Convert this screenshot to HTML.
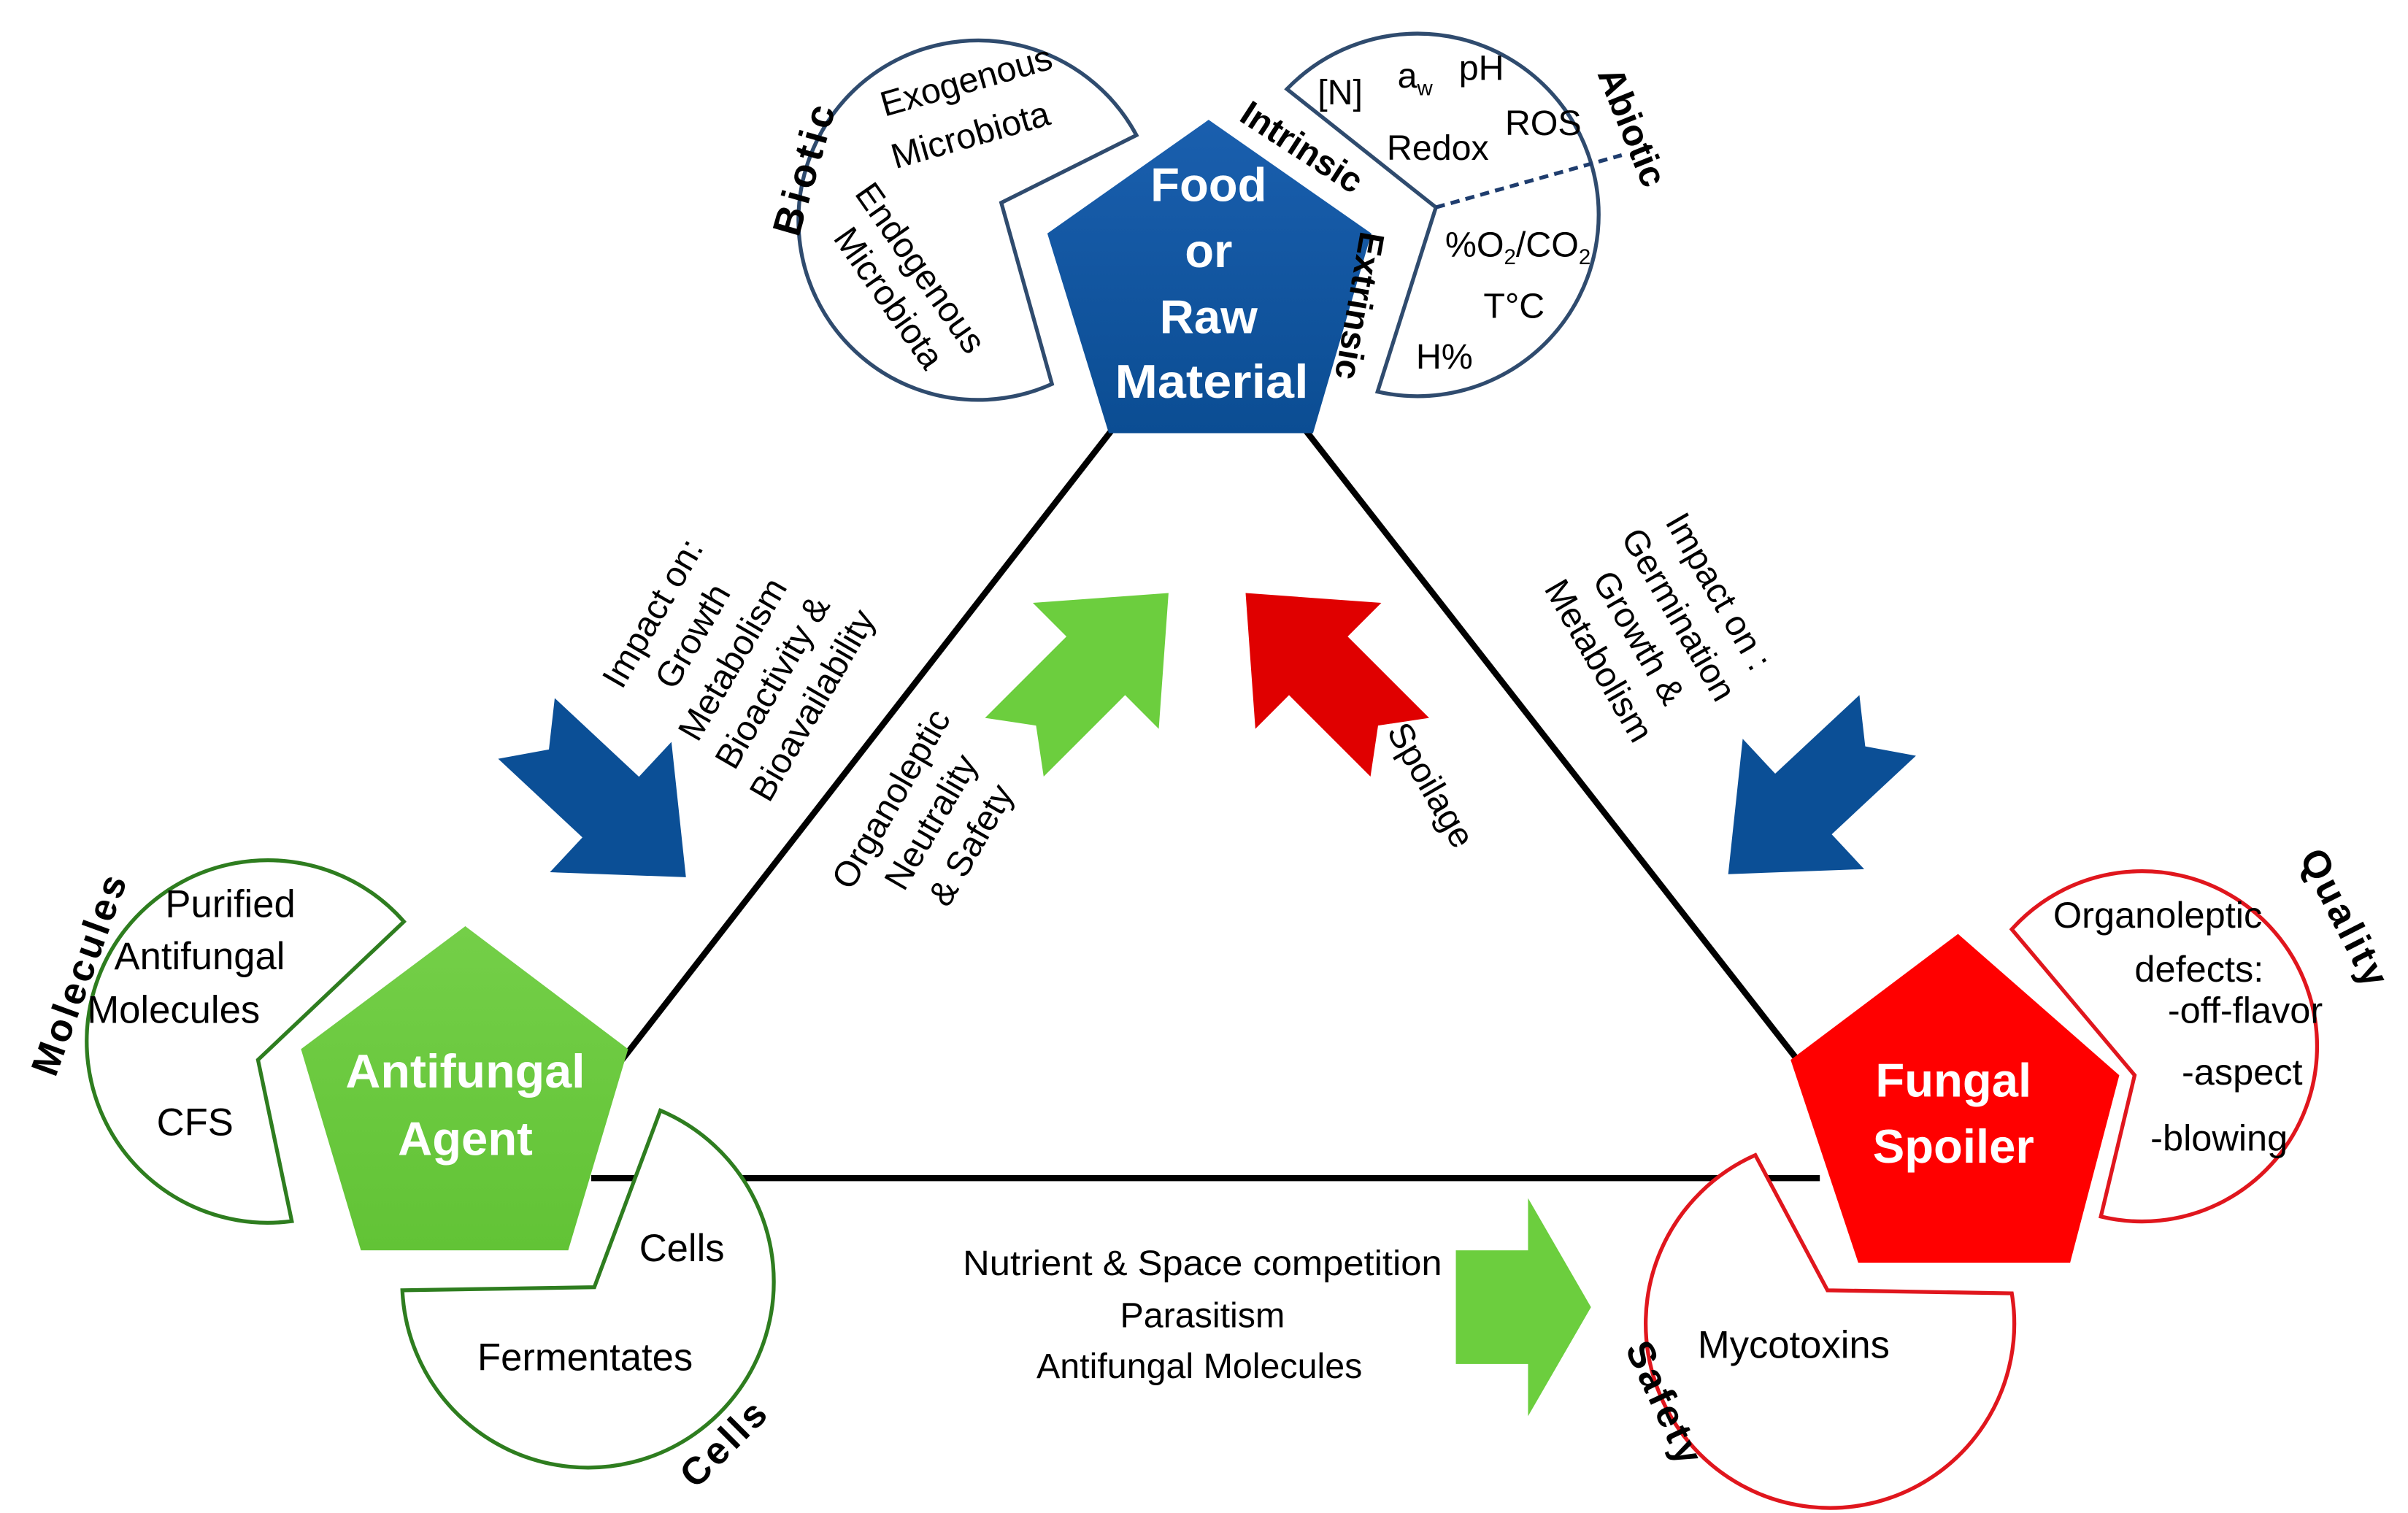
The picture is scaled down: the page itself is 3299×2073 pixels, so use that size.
<!DOCTYPE html>
<html><head><meta charset="utf-8">
<style>
html,body{margin:0;padding:0;background:#fff;}
svg{display:block;}
text{font-family:"Liberation Sans","DejaVu Sans",sans-serif;}
</style></head>
<body>
<svg width="3299" height="2073" viewBox="0 0 1568 985" preserveAspectRatio="none" xmlns="http://www.w3.org/2000/svg">
<defs>
<linearGradient id="gb" x1="0" y1="0" x2="0" y2="1"><stop offset="0" stop-color="#1a5fae"/><stop offset="1" stop-color="#0b4d93"/></linearGradient>
<linearGradient id="gg" x1="0" y1="0" x2="0" y2="1"><stop offset="0" stop-color="#74cf48"/><stop offset="1" stop-color="#62c336"/></linearGradient>
</defs>
<g stroke="#000" stroke-width="4" fill="none">
<line x1="724" y1="280" x2="405" y2="690"/>
<line x1="850" y1="280" x2="1172" y2="692"/>
<line x1="385" y1="767" x2="1185" y2="767"/>
</g>

<path d="M685,250 L652,132 L740,88 A117,117 0 1 0 685,250 Z" fill="#fff" stroke="#2f4b6e" stroke-width="2.5"/>
<path d="M838,58 L935,135 L897,255 A118,118 0 1 0 838,58 Z" fill="#fff" stroke="#2f4b6e" stroke-width="2.5"/>
<line x1="935" y1="135" x2="1056" y2="101" stroke="#1f3d6e" stroke-width="2.5" stroke-dasharray="6,4"/>

<polygon points="787,78 682,152 722,282 855,282 893,152" fill="url(#gb)"/>
<g fill="#fff" font-weight="bold" font-size="31" text-anchor="middle">
<text x="787" y="131">Food</text>
<text x="787" y="174">or</text>
<text x="787" y="217">Raw</text>
<text x="789" y="259" textLength="126" lengthAdjust="spacingAndGlyphs">Material</text>
</g>

<text transform="translate(520,155) rotate(-74)" font-size="26" font-weight="bold" letter-spacing="3">Biotic</text>
<text transform="translate(576,76) rotate(-16)" font-size="23">Exogenous</text>
<text transform="translate(583,110) rotate(-16)" font-size="23">Microbiota</text>
<text transform="translate(556,126) rotate(55)" font-size="23">Endogenous</text>
<text transform="translate(542,155) rotate(55)" font-size="23">Microbiota</text>

<text transform="translate(1040,48) rotate(68)" font-size="24" font-weight="bold">Abiotic</text>
<text transform="translate(806,78) rotate(33)" font-size="23" font-weight="bold">Intrinsic</text>
<text transform="translate(886,150) rotate(100)" font-size="23" font-weight="bold">Extrinsic</text>
<g font-size="23">
<text x="858" y="68">[N]</text>
<text x="910" y="57">a<tspan font-size="14" dy="5">w</tspan></text>
<text x="950" y="52">pH</text>
<text x="903" y="104">Redox</text>
<text x="980" y="88">ROS</text>
<text x="941" y="167">%O<tspan font-size="14" dy="5">2</tspan><tspan dy="-5">/CO</tspan><tspan font-size="14" dy="5">2</tspan></text>
<text x="966" y="207">T°C</text>
<text x="922" y="240">H%</text>
</g>

<path d="M190,795 L168,690 L263,600 A118,118 0 1 0 190,795 Z" fill="#fff" stroke="#2e7d1f" stroke-width="2.5"/>
<path d="M430,723 L387,838 L262,840 A121,121 0 1 0 430,723 Z" fill="#fff" stroke="#2e7d1f" stroke-width="2.5"/>

<polygon points="303,603 196,683 235,814 370,814 409,683" fill="url(#gg)"/>
<g fill="#fff" font-weight="bold" font-size="31" text-anchor="middle">
<text x="303" y="708" textLength="156" lengthAdjust="spacingAndGlyphs">Antifungal</text>
<text x="303" y="752">Agent</text>
</g>
<text transform="translate(36,702) rotate(-70)" font-size="25" font-weight="bold" letter-spacing="2">Molecules</text>
<g font-size="25" text-anchor="middle">
<text x="150" y="597">Purified</text>
<text x="130" y="631">Antifungal</text>
<text x="113" y="666">Molecules</text>
<text x="127" y="739">CFS</text>
<text x="444" y="821">Cells</text>
<text x="381" y="892">Fermentates</text>
</g>
<text transform="translate(453,970) rotate(-45)" font-size="25" font-weight="bold" letter-spacing="2">Cells</text>

<path d="M1310,605 L1390,700 L1368,792 A114,114 0 1 0 1310,605 Z" fill="#fff" stroke="#e0161d" stroke-width="2.5"/>
<path d="M1143,752 L1190,840 L1310,842 A120,120 0 1 1 1143,752 Z" fill="#fff" stroke="#e0161d" stroke-width="2.5"/>

<polygon points="1275,608 1166,690 1210,822 1348,822 1380,700" fill="#ff0000"/>
<g fill="#fff" font-weight="bold" font-size="31" text-anchor="middle">
<text x="1272" y="714">Fungal</text>
<text x="1272" y="757">Spoiler</text>
</g>
<g font-size="24" text-anchor="middle">
<text x="1405" y="604">Organoleptic</text>
<text x="1432" y="639">defects:</text>
<text x="1462" y="666">-off-flavor</text>
<text x="1460" y="706">-aspect</text>
<text x="1445" y="749">-blowing</text>
<text x="1168" y="884" font-size="25">Mycotoxins</text>
</g>
<text transform="translate(1497,558) rotate(63)" font-size="25" font-weight="bold" letter-spacing="2">Quality</text>
<text transform="translate(1058,878) rotate(65)" font-size="25" font-weight="bold" letter-spacing="2">Safety</text>

<polygon transform="translate(394,522) rotate(43)" points="-70,-27 5,-27 5,-58 72,0 5,58 5,27 -70,27 -50,0" fill="#0b4f96"/>
<polygon transform="translate(1178,520) rotate(137)" points="-70,-27 5,-27 5,-58 72,0 5,58 5,27 -70,27 -50,0" fill="#0b4f96"/>
<polygon transform="translate(710,437) rotate(-45)" points="-70,-27 5,-27 5,-58 72,0 5,58 5,27 -70,27 -50,0" fill="#6cce3e"/>
<polygon transform="translate(862,437) rotate(-135)" points="-70,-27 5,-27 5,-58 72,0 5,58 5,27 -70,27 -50,0" fill="#e00000"/>
<polygon points="948,814 995,814 995,780 1036,851 995,922 995,888 948,888" fill="#6cce3e"/>

<g font-size="23" text-anchor="middle" transform="translate(482,432) rotate(-60)">
<text x="0" y="-58">Impact on:</text>
<text x="0" y="-28">Growth</text>
<text x="0" y="2">Metabolism</text>
<text x="0" y="32">Bioactivity &amp;</text>
<text x="0" y="62">Bioavailability</text>
</g>
<g font-size="23" text-anchor="middle" transform="translate(1076,410) rotate(60)">
<text x="0" y="-42">Impact on :</text>
<text x="0" y="-12">Germination</text>
<text x="0" y="18">Growth &amp;</text>
<text x="0" y="48">Metabolism</text>
</g>
<g font-size="23" text-anchor="middle" transform="translate(606,535) rotate(-60)">
<text x="0" y="-22">Organoleptic</text>
<text x="0" y="8">Neutrality</text>
<text x="0" y="38">&amp;  Safety</text>
</g>
<text transform="translate(925,515) rotate(60)" font-size="23" text-anchor="middle">Spoilage</text>

<g font-size="23" text-anchor="middle">
<text x="783" y="830" textLength="312" lengthAdjust="spacingAndGlyphs">Nutrient &amp; Space competition</text>
<text x="783" y="864">Parasitism</text>
<text x="781" y="897">Antifungal Molecules</text>
</g>
</svg>
</body></html>
